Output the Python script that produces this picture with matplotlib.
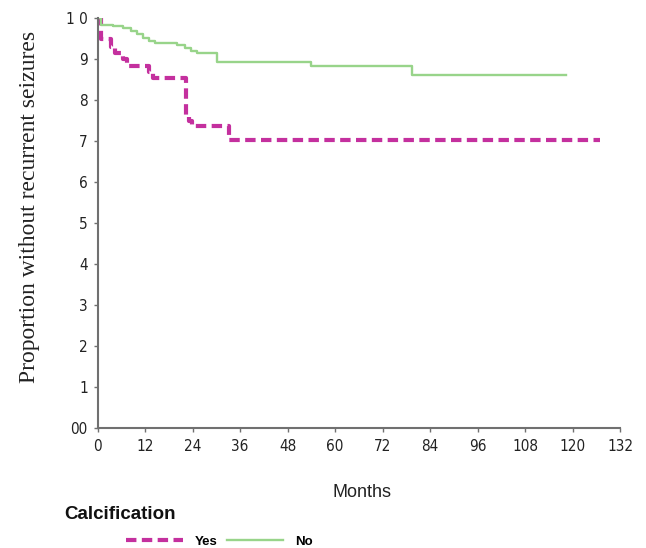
import numpy as np
import matplotlib.pyplot as plt

# Kaplan-Meier style step data
yes_months = [0, 0.8, 3.3, 4.3, 6.5, 7.5, 13.0, 14.0, 22.3, 23.0, 23.8, 33.3, 127]
yes_surv = [1.0, 0.95, 0.93, 0.914, 0.899, 0.884, 0.868, 0.853, 0.763, 0.75, 0.736, 0.702, 0.702]

no_months = [0, 0.8, 4, 6.5, 8.5, 10, 11.5, 13, 14.5, 20, 22, 23.5, 25, 30.2, 54, 79.5, 118.4]
no_surv = [1.0, 0.984, 0.980, 0.975, 0.968, 0.960, 0.952, 0.945, 0.940, 0.935, 0.928,
           0.920, 0.914, 0.892, 0.882, 0.861, 0.861]

x_ticks = list(range(0, 133, 12))
y_ticks = [i / 10 for i in range(11)]
y_labels = ['00', '1', '2', '3', '4', '5', '6', '7', '8', '9', '1 0']

fig = plt.figure(figsize=(6.46, 5.48), dpi=100)
ax = fig.add_axes([0.151, 0.219, 0.809, 0.748])

yes_line, = ax.step(yes_months, yes_surv, where='post', color='#c4309e', lw=3.0,
                    dashes=(2.5, 1.3), label='Yes')
no_line, = ax.step(no_months, no_surv, where='post', color='#98d48a', lw=1.7, label='No')

ax.set_xlim(0, 132)
ax.set_ylim(0, 1.0)
ax.set_xticks(x_ticks)
ax.set_yticks(y_ticks)
ax.set_yticklabels(y_labels)

for side in ['top', 'right']:
    ax.spines[side].set_visible(False)
for side in ['left', 'bottom']:
    ax.spines[side].set_color('#707070')
    ax.spines[side].set_linewidth(1.5)
ax.tick_params(axis='both', length=3, width=1, color='#707070', labelsize=11,
               labelcolor='#222222')
ax.tick_params(axis='x', pad=5)
ax.tick_params(axis='y', pad=4)
for lbl in ax.get_xticklabels() + ax.get_yticklabels():
    lbl.set_fontstretch('condensed')

ax.set_ylabel('Proportion without recurrent seizures', family='Liberation Serif',
              fontsize=17, color='#222222')
ax.yaxis.set_label_coords(-0.11, 0.54)

fig.text(0.56, 0.102, 'Months', ha='center', va='center', fontsize=13,
         family='Liberation Sans', color='#222222')
fig.text(0.1, 0.062, 'Calcification', ha='left', va='center', fontsize=13.5,
         family='Liberation Sans', fontweight='bold', color='#111111')

fig.legend(handles=[yes_line, no_line], loc='center left', bbox_to_anchor=(0.185, 0.012),
           ncol=2, frameon=False, handlelength=4.3, handletextpad=0.9, columnspacing=0.7,
           borderpad=0, prop={'family': 'Liberation Sans', 'weight': 'bold', 'size': 9.5})

fig.savefig('out.png', dpi=100)
